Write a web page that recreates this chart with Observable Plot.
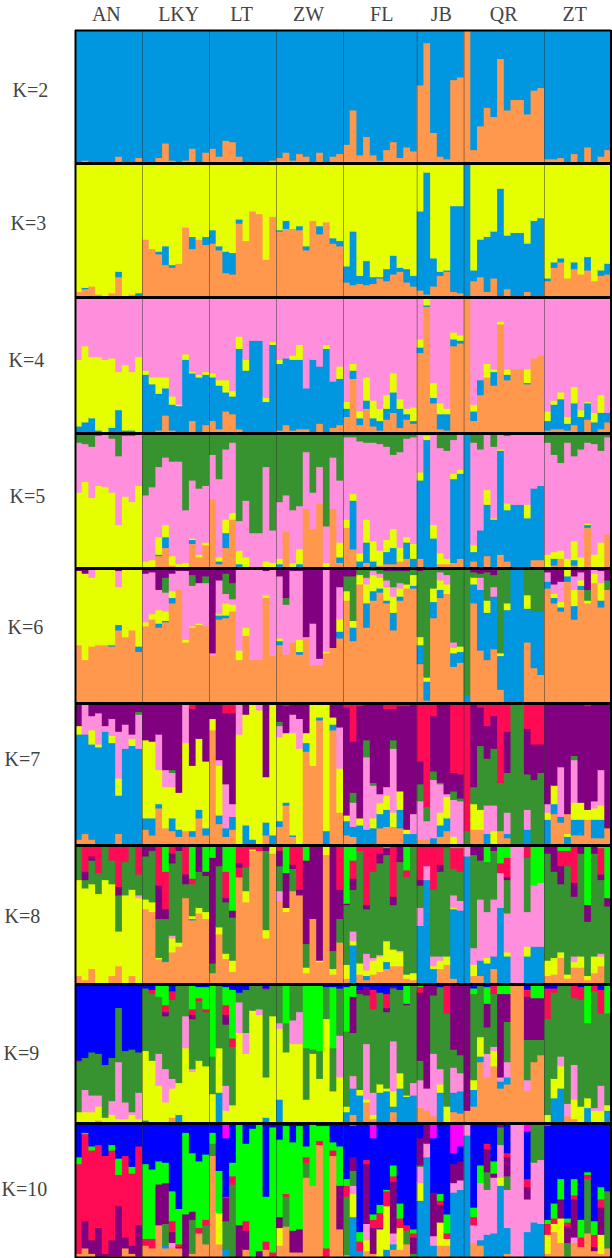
<!DOCTYPE html>
<html>
<head>
<meta charset="utf-8">
<script src="https://cdn.jsdelivr.net/npm/d3@7"></script>
<script src="https://cdn.jsdelivr.net/npm/@observablehq/plot@0.6"></script>
<style>
  html, body { margin: 0; padding: 0; background: #fff; }
  svg { display: block; }
</style>
</head>
<body>
<div id="chart"></div>
<script>
// Populations and their number of individuals
const popNames = ["AN", "LKY", "LT", "ZW", "FL", "JB", "QR", "ZT"];
const popSizes = [10, 10, 10, 10, 11, 7, 12, 10];
const popLabelAt = [4.6, 15.4, 24.8, 34.8, 45.7, 54.6, 63.9, 74.5];

// Cluster keys: o orange, b blue, y yellow, p pink, g green, u purple, r red, l lime, n navy, m magenta
const clusterKeys = ["o", "b", "y", "p", "g", "u", "r", "l", "n", "m"];
const clusterColors = ["#FF974D", "#0096E0", "#E5FF00", "#FF8FDC", "#37932F", "#800080", "#FF0A54", "#00FF00", "#0000FF", "#FF00FF"];

// Each bar is one individual: cumulative ancestry (%) from the bottom of the bar upwards.
const k2 = [
"b100","o1 b100","b100","b100","b100","b100","o4 b100","b100","b100","o3 b100",
"b100","b100","o3 b100","o14 b100","o1 b100","b100","o1 b100","o10 b100","b100","o7 b100",
"o10 b100","o4 b100","o16 b100","o15 b100","o4 b100","b100","b100","b100","b100","o1 b100",
"o3 b100","o7 b100","o1 b100","o6 b100","o4 b100","b100","o7 b100","b100","o4 b100","o6 b100",
"o13 b100","o39 b100","o5 b100","o19 b100","o5 b100","o1 b100","o9 b100","o15 b100","o3 b100","o11 b100","o8 b100",
"o58 b100","o90 b100","o22 b100","o4 b100","o2 b100","o62 b100","o64 b100",
"o100","o9 b100","o27 b100","o41 b100","o34 b100","o78 b100","o39 b100","o47 b100","o47 b100","o36 b100","o54 b100","o56 b100",
"o2 b100","o2 b100","o3 b100","b100","o6 b100","b100","o11 b100","b100","o4 b100","o9 b100"];

const k3 = [
"o3 y100","o5 b6 y100","o7 y100","o1 y100","y100","o2 y100","o14 b18 y100","y100","o1 y100","b2 y100",
"o42 y100","o35 y100","o31 b33 y100","o23 b37 y100","o21 b23 y100","o24 y100","o51 y100","o35 b44 y100","o42 y100","o38 b44 y100",
"o39 b49 y100","o34 b37 y100","o17 b33 y100","o16 b32 y100","o54 b57 y100","o41 y100","o63 y100","o61 y100","o27 y100","o59 y100",
"o48 b49 y100","o50 b56 y100","o50 y100","o49 b52 y100","o34 b37 y100","o56 y100","o46 b52 y100","o55 y100","o39 b43 y100","o37 b41 y100",
"o10 b22 y100","o8 b48 y100","o9 b15 y100","o8 b26 y100","o9 b14 y100","o13 b14 y100","o11 b20 y100","o16 b30 y100","o18 b21 y100","o10 b20 y100","o7 b15 y100",
"o4 b63 y100","o1 b92 y100","o7 b28 y100","o15 b18 y100","o18 b19 y100","o3 b67 y100","o2 b67 y100",
"b100","o11 b19 y100","o14 b42 y100","o3 b44 y100","o13 b48 y100","b80 y100","o5 b45 y100","b47 y100","b47 y100","o3 b39 y100","b56 y100","b58 y100",
"o11 b13 y100","o21 b25 y100","o25 b28 y100","o13 y100","o20 b25 y100","o16 y100","o19 b29 y100","o11 y100","o15 b19 y100","o16 b24 y100"];

const k4 = [
"b4 y53 p100","b7 y63 p100","b10 y55 p100","b1 y55 p100","y53 p100","b3 y54 p100","b16 y44 p100","b1 y49 p100","b1 y44 p100","y55 p100",
"b42 y45 p100","b35 y40 p100","o1 b28 y40 p100","o12 b32 y40 p100","o1 b20 y26 p100","b19 y20 p100","b53 y57 p100","o8 b43 y44 p100","b40 y42 p100","o5 b42 y44 p100",
"o8 b40 y43 p100","o2 b34 y38 p100","o15 b29 y38 p100","o13 b26 y30 p100","o2 b61 y70 p100","b45 y53 p100","b67 p100","b67 p100","b22 y25 p100","b64 y66 p100",
"o1 b50 y53 p100","o5 b54 p100","o1 b53 y56 p100","o2 b53 y64 p100","o2 b32 p100","b53 p100","o6 b48 p100","b61 y64 p100","o3 b37 p100","o5 b39 y48 p100",
"o11 b17 y22 p100","o39 b45 y50 p100","o5 b10 y15 p100","o17 b23 y40 p100","o4 b10 y23 p100","o1 b8 y17 p100","o9 b17 y27 p100","o14 b29 y43 p100","o3 b17 y24 p100","o9 b13 y17 p100","o6 b8 y18 p100",
"o58 b62 y68 p100","o92 b93 y98 p100","o21 b25 y36 p100","o2 b13 y21 p100","o1 b13 y17 p100","o63 b68 y73 p100","o65 b67 y71 p100",
"o100","o8 b15 y20 p100","o27 b38 p100","o40 y50 p100","o34 b44 y46 p100","o79 y81 p100","o38 b42 y46 p100","o46 p100","o46 p100","o35 b36 y46 p100","o54 p100","o56 p100",
"o1 b8 y15 p100","o2 b20 y23 p100","o2 b24 y29 p100","o1 b6 y11 p100","o5 b21 y33 p100","b11 y16 p100","o9 b21 y22 p100","b7 y14 p100","o2 b14 y27 p100","o7 b14 p100"];

const k5 = [
"y55 p92 g100","y63 p91 g100","y51 p89 g100","y60 p97 g100","y59 p99 g100","y55 p95 g100","y31 p82 g100","y52 p97 g100","y48 p97 g100","y60 p98 g100",
"y4 p53 g100","y5 p59 g100","o8 b9 y22 p74 g100","o14 b22 y31 p81 g100","o1 y8 p78 g100","y2 p78 g100","y3 p42 g100","o17 b20 y21 p64 g100","o7 y9 p58 g100","o16 y18 p60 g100",
"o50 p83 g100","o2 b4 y7 p65 g100","o14 b25 y35 p87 g100","o35 y40 p92 g100","b2 y12 p34 g100","y7 p49 g100","p25 g100","p25 g100","y4 p74 g100","y3 p27 g100",
"b2 y6 p48 g100","o26 p53 g100","y3 p42 g100","b2 y13 p45 g100","o43 p85 g100","o28 p55 g100","o47 p74 g100","y3 p30 g100","o43 p81 g100","o3 b7 y18 p64 g100",
"o29 y35 p96 g100","o13 b49 y54 p96 g100","b4 y10 p93 g100","o3 b18 y35 p92 g100","b4 y19 p92 g100","o1 y12 p91 g100","o2 b11 y20 p89 g100","o2 b14 y28 p83 g100","o4 y14 p85 g100","o6 b18 y22 p95 g100","b6 y17 p96 g100",
"o6 b64 y70 p99 g100","b94 y97 p98 g100","b21 y31 p99 g100","o2 y10 p88 g100","o2 y6 p86 g100","o3 b65 y69 p94 g100","o6 b69 y72 p98 g100",
"b100","o4 b11 y16 p92 g100","b27 p87 g100","o8 b46 y57 p100","b35 y36 p89 g100","o9 b86 y87 p100","o4 b42 y47 p97 g100","b46 p100","b46 p100","b36 y46 p98 g100","o5 b58 p100","o5 b60 p100",
"y9 p92 g100","o1 b6 y11 p83 g100","o6 y12 p77 g100","y6 p92 g100","o1 b5 y19 p82 g100","y7 p87 g100","o29 b31 y32 p92 g100","y9 p91 g100","y18 p86 g100","o24 p96 g100"];

const k6 = [
"o42 y97 u100","o31 y95 u100","o41 y92 p99 u100","o42 y99 u100","o42 y100","o41 b42 y100","o53 b57 y85 p97 u100","o48 y100","o53 y100","o37 b41 y100",
"o56 y59 p95 u100","o61 y65 p96 u100","o55 b58 y68 p83 u100","o59 b60 y67 p81 g92 u100","o73 b77 y82 p95 u100","o83 p97 u100","o44 y46 p97 u100","o55 y56 p86 g94 u100","o57 y58 p88 u100","o56 p88 g93 u100",
"o34 p36 u100","o61 b64 y65 p90 u100","o62 b64 y73 p80 g95 u100","o67 y72 p76 g88 u100","o31 y38 p98 u100","o49 y55 p100","o31 p100","o31 p100","o77 y79 p97 u100","o34 p100",
"o42 b45 y47 p93 u100","o35 p72 g77 u100","o44 p97 u100","o35 b37 y46 p97 u100","o47 p48 u100","o27 p58 u100","o27 p32 u100","o36 y37 p100","o40 u100","o47 b52 y61 p85 u100",
"o75 y82 g93 u100","o45 b55 y60 g93 u100","o87 y94 g100","o55 b73 y87 p92 g100","o75 b82 y94 p97 g100","o81 b84 y92 p95 g100","o73 b75 y85 p90 g97 u100","o53 b66 y78 p85 g97 u100","o75 b78 y84 p88 g97 u100","o84 y87 g97 u100","o84 b86 y94 g100",
"o28 b42 y48 g97 u100","o1 b15 y18 g100","o62 b74 y84 g100","o77 b83 y90 p96 g100","o80 y87 p94 g100","o26 b36 y40 p44 g100","o29 b37 y41 g100",
"b5 g100","o73 b87 y92 g96 u100","o38 b83 p92 g95 u100","o31 b66 y75 g96 u100","o39 b78 p85 g94 u100","o9 b34 y36 g99 u100","b68 y73 g99 u100","b100","b100","o44 b69 y79 g100","o25 b67 g100","o20 b67 g100",
"o84 b89 p96 u100","o73 b77 y80 p87 u100","o67 b70 y74 p89 u100","o89 b93 y99 p100","o61 b71 y83 p93 u100","o83 b86 y90 p96 u100","o73 y75 g83 u100","o88 y95 p98 u100","o70 b75 y88 p97 u100","o83 g90 u100"];

const k7 = [
"o3 b77 y83 u100","o7 b77 p100","o3 b70 y80 p90 u100","b68 y70 p92 u100","b79 p83 u100","b71 y76 p88 u100","o7 b34 y46 p79 u100","b67 p84 u100","b69 y74 p77 u100","b67 p91 g93 u100",
"o10 b18 y73 u100","o6 b18 y72 u100","o25 b28 y52 p77 u100","o11 y40 p52 u100","o9 b18 y40 p50 g52 u100","o5 b10 y36 u100","o9 y71 p98 u100","o5 b9 y55 u95 r100","o18 b24 y74 u100","o6 b11 y58 u98 r100",
"o80 y88 u100","o14 b20 y55 p59 u99 r100","o5 b11 p42 u92 r100","o10 b19 p28 u92 r100","y77 p100","b13 y91 u100","b3 y100","y94 p100","o6 b15 y47 u100","b6 y100",
"o12 b16 y75 p83 g86 u100","o27 b29 y78 u97 r100","o5 b6 y78 p91 u100","y67 p88 u100","o65 b71 y78 u100","o55 y100","o87 b89 y100","b9 y100","o80 b84 y89 u100","o22 y53 p82 u100",
"o6 b16 y20 u96 r100","o5 b12 p29 g36 u72 r100","b13 y18 u97 r100","b10 p61 g73 u100","b11 y18 p41 g43 u100","o11 b21 y29 p35 u100","o12 b24 y34 p40 u95 r100","o12 y22 p67 g73 u95 r100","o11 b24 y37 u97 r100","b7 y10 u97 r100","b7 p21 u100",
"o3 p30 g42 u58 r100","o3 p16 g26 r100","b4 p45 g51 u90 r100","o5 b13 y22 p42 g43 u100","o9 b18 y33 p35 u100","y5 p31 g37 u50 r100","p30 g32 u49 r100",
"g9 r100","o10 y28 g40 u100","o10 y24 g69 u96 r100","b7 p27 g60 u83 r100","y9 p27 g67 u90 r100","o9 g43 u43 r100","o4 b7 p22 g50 u79 r100","g100","g100","b10 p24 g49 u81 r100","g45 u70 r100","g50 u70 r100",
"b17 y22 p28 u100","o21 b28 y41 u100","o15 b19 p54 u100","b5 y7 o21 u100","o6 b17 y29 p59 g62 u100","o6 b17 y29 u100","o17 y24 u97 r100","o4 b17 y25 p30 u100","o4 b17 y27 p52 u100","o11 u99 r100"];

const k8 = [
"o5 y74 g99 r100","o2 y68 g74 u80 r100","o10 y71 g88 u91 r100","y64 g79 r100","y74 g98 r100","o5 y71 g88 r100","o12 y37 g63 u69 r100","y63 g87 r100","o5 y67 g98 r100","y61 p63 g78 r100",
"o53 y60 g91 u100","o51 y58 g95 u100","o17 y18 g46 u70 r100","o15 b16 g46 u53 r80 l100","o22 y32 p34 g86 u93 r100","o26 y29 g95 u100","o61 g71 u78 r100","o45 b46 y48 g71 r75 l100","o50 y54 g80 u100","o46 y51 g77 u80 l100",
"o7 g14 u90 l100","o35 y40 g84 u100","o17 b17 y21 g58 u61 r80 l100","o8 y16 g47 u52 l100","o76 r83 u86 r100","o58 y66 g83 r100","o95 y96 r100","o95 r100","o32 y38 g95 u100","o93 y98 r100",
"o59 p66 g84 u95 r100","o51 y54 u79 l100","o66 g82 u85 r100","o63 u67 r100","o7 y11 g28 u88 l100","o46 u100","o15 y16 u100","o92 y99 u100","o6 y10 g23 u100","o29 g46 u67 r100",
"o3 y13 g56 u57 l100","b27 y30 p37 g67 u75 r88 l100","o6 y14 g95 r100","o2 b5 y9 p21 g53 u56 r100","o6 y16 p18 g80 r100","o8 y19 p20 g86 u93 r100","o10 b15 y30 g92 u97 l100","o12 y24 g56 u62 r100","o12 y22 p23 g87 u98 l100","o3 y6 g76 r81 l100","o2 y7 g100",
"b41 p54 g70 u74 r100","b74 p84 r100","b10 y12 p19 g67 r100","o10 y16 p19 g80 u85 r100","o13 y19 g97 r100","o3 b53 y54 p63 g82 r97 l100","b52 p59 g80 r97 l100",
"b91 p100","o5 y13 p25 g92 u100","o5 b16 p60 g88 u100","b14 y18 p51 g87 l100","o10 b19 p60 g95 u100","b54 p79 r86 l100","b19 y22 p50 g74 u76 r90 l100","p100","p100","b19 y26 p51 g90 r100","b26 p70 l100","b26 p72 l100",
"o5 y16 g93 u100","o6 y18 g80 u100","o18 y22 g71 u84 r95 l100","o3 y6 g84 r95 l100","o11 y15 p19 g62 u72 r100","o11 y19 g93 u100","o2 y5 g44 u56 l100","o7 y19 g93 u100","o12 y19 p21 g74 u78 r97 l100","g55 u61 l100"];

const k9 = [
"y7 g43 r44 n100","y7 p23 g46 n100","y7 p19 g50 n100","o1 y11 p19 g49 n100","y3 g41 n100","y5 p15 g46 n100","y2 p43 g82 n100","y2 p14 g51 n100","y5 p7 g52 n100","y2 p21 g50 n100",
"b1 y51 g96 n100","y44 g92 r95 n100","y26 p49 g90 l99 n100","y14 p38 g76 u79 r84 l100","o3 y24 p31 g88 r94 n100","b5 y28 g98 n100","y53 p76 g98 n100","y36 p38 g74 u77 r81 l98 n100","y44 g87 r89 l97 n100","y40 g79 r81 l97 n100",
"y20 g47 l100","b21 y53 g98 n100","y8 p26 g70 u77 r84 l97 n100","y12 g54 r60 l95 n100","y64 p86 g93 n100","y49 p64 g95 n100","y80 g100","y77 p81 g99 n100","b3 y32 g95 r96 n100","y76 g98 n100",
"b16 y67 p71 g98 n100","y50 g71 l98 n100","y56 p73 g100","y56 p79 g99 n100","y16 g53 l99 n100","y49 g52 l99 n100","y31 g51 l99 n100","y74 g97 n100","y22 g53 l97 n100","y32 p62 g96 n100",
"b7 y11 g65 l97 n100","o5 b24 p33 g64 u90 l99 n100","b19 y23 g92 u95 n100","o14 y16 p56 g91 u97 n100","o2 y5 p21 g81 r95 n100","b21 y27 g93 n100","b22 y24 g79 u82 r92 n100","o7 b11 y22 p58 g96 u97 n100","b24 y35 g95 n100","b18 y19 g84 u85 l98 n100","b19 p28 g98 n100",
"o10 p30 g44 u93 r97 l100","o8 p24 u100","o4 p49 g91 u100","b21 y27 p38 g97 n100","y11 g78 r98 n100","o7 b21 p39 g52 u100","o6 b22 p35 g48 u100",
"o8 u100","o11 b23 y30 g92 l96 n100","o43 b47 y61 g100","o32 p49 g68 u85 l97 n100","o40 y51 p54 g92 r100","o24 b29 p32 u92 l100","o27 b32 p43 g72 u92 l100","o100","o100","o22 p30 g59 u90 r95 n100","o43 g59 u89 l100","o48 g59 u89 l100",
"y5 g74 r96 n100","b17 y31 g93 r96 n100","b24 y40 p47 g98 n100","o4 p13 g98 n100","o2 y16 p41 g89 r98 n100","y11 g88 r97 n100","b10 y17 g71 l98 n100","y8 p10 g94 r99 n100","y8 p26 g78 r95 n100","b8 y12 g78 l98 n100"];

const k10 = [
"o3 r69 l74 n100","o7 u27 r91 l92 n100","o3 u13 r79 l82 n100","u22 r83 n100","u3 r75 n100","o1 u13 r79 l83 n100","o1 u38 r61 l73 n100","o7 u15 r75 n100","o3 u9 r62 l67 n100","p1 u24 r82 n100",
"o9 r14 l69 n100","o7 r14 l65 n100","o24 u54 l71 n100","o7 b9 g25 u55 l70 n100","o8 p11 u19 r27 l49 n100","o7 u8 r10 l36 n100","u32 l92 n99 m100","o3 g28 u34 l77 n100","o18 r22 l71 n100","o10 g24 r28 l76 n100",
"o75 g84 l92 n100","o10 y33 l64 n100","o1 b6 g27 u44 r45 n88 m100","g54 r60 l70 n100","u24 l100","o6 u20 r27 l84 n100","l95 n100","u5 l98 n100","o6 r12 l45 n100","r4 l96 n100",
"o9 y22 u30 l87 n100","o23 g45 r47 l97 n100","o4 u20 l85 n100","o4 u21 l97 n100","o59 g70 r74 l82 n100","o53 l99 n100","o83 r86 l97 n100","r7 l97 n100","o75 r79 l85 n100","o21 u53 l82 n100",
"o2 g45 r53 l58 n100","b30 y47 p53 g64 u74 n97 m100","b5 r12 l19 n100","o5 y13 p25 u69 r72 n100","o3 u22 r28 l32 n88 m100","y21 u22 r33 l39 n100","b6 y38 r49 l50 n100","o6 b10 p18 u56 r60 l68 n100","o6 y22 r29 l40 n100","o10 g20 r24 n100","g3 u15 r18 l21 n100",
"o1 b42 y55 p67 g68 u88 n100","b74 p84 u98 m100","b9 p16 u48 n88 m100","o9 y26 u39 r42 l47 n100","o9 y14 r18 l32 n100","b48 p55 u69 n77 m100","b50 p57 u71 n82 m100",
"b90 p100","o11 p24 r30 l37 n100","o9 b13 p55 l68 n100","b17 p50 g63 u80 r84 n100","b18 p59 u62 l71 n100","b53 y59 p83 g96 u100","o3 b22 p50 g60 u74 r77 n100","p100","p100","b19 p43 u52 r58 n93 m100","b26 p70 g100","b25 p72 g100",
"o3 y17 r25 l28 n97 m100","o19 y25 r29 l40 n100","o11 y29 u43 l58 n100","o1 g11 u23 r26 l29 n100","o11 p15 u43 r46 l58 n100","o8 r15 l28 n100","o18 g58 r61 l63 n100","o5 u8 r17 l27 n100","o3 y17 u37 r43 l52 n100","o7 g49 n100"];

// One row per panel
const kLabels = ["K=2", "K=3", "K=4", "K=5", "K=6", "K=7", "K=8", "K=9", "K=10"];
const kBars = [k2, k3, k4, k5, k6, k7, k8, k9, k10];

// Page layout, separate from the data: panel top edge in px and row-label placement
const panelTops = [30, 162, 296, 432, 567, 702, 844, 983, 1122, 1258];
const labelLefts = [12, 10, 8, 9, 7, 4, 4, 3, 1];
const labelMids = [90, 223, 360, 496, 627, 759, 916, 1053, 1189];

const popBreaks = d3.cumsum(popSizes);
const nBars = popBreaks[popBreaks.length - 1];
const serif = "Liberation Serif, serif";

function segments(bars) {
  return bars.flatMap((bar, i) => {
    let y1 = 0;
    return bar.split(" ").map(tok => {
      const y2 = +tok.slice(1);
      const row = { i, cluster: tok[0], y1, y2 };
      y1 = y2;
      return row;
    });
  });
}

const chart = document.getElementById("chart");
kLabels.forEach((label, p) => {
  const first = p === 0, last = p === kLabels.length - 1;
  const top = panelTops[p], bottom = panelTops[p + 1];
  const marginTop = first ? top : 0;
  const svgHeight = bottom - (first ? 0 : top);
  const mid = (top + bottom) / 2;
  const marks = [
    Plot.rect(segments(kBars[p]), {
      x1: "i", x2: d => d.i + 1, y1: "y1", y2: "y2", fill: "cluster",
      insetRight: -1.2, insetTop: -1.2, clip: true
    }),
    Plot.ruleX(popBreaks.slice(0, -1), { stroke: "#333", strokeOpacity: 0.5, strokeWidth: 1 }),
    Plot.ruleX([0], { stroke: "#000", strokeWidth: 2 }),
    Plot.ruleX([nBars], { stroke: "#000", strokeWidth: 2, dx: -0.5 }),
    Plot.ruleY([100], { stroke: "#000", strokeWidth: first ? 2 : 3, dy: first ? 0 : 1 }),
    Plot.text([label], {
      frameAnchor: "left", textAnchor: "start",
      dx: labelLefts[p] - 75, dy: labelMids[p] - mid,
      fontFamily: serif, fontSize: 20, fill: "#444", stroke: "none"
    })
  ];
  if (first) marks.push(Plot.text(popNames, {
    x: popLabelAt, text: d => d, frameAnchor: "top", lineAnchor: "middle", dy: -16,
    fontFamily: serif, fontSize: 20, fill: "#444"
  }));
  if (last) marks.push(Plot.ruleY([0], { stroke: "#000", strokeWidth: 2, dy: -1 }));
  chart.append(Plot.plot({
    width: 612,
    height: svgHeight,
    marginLeft: 75, marginRight: 1, marginTop, marginBottom: 0,
    x: { domain: [0, nBars], axis: null },
    y: { domain: [0, 100], axis: null },
    color: { domain: clusterKeys, range: clusterColors },
    marks
  }));
});
</script>
</body>
</html>
